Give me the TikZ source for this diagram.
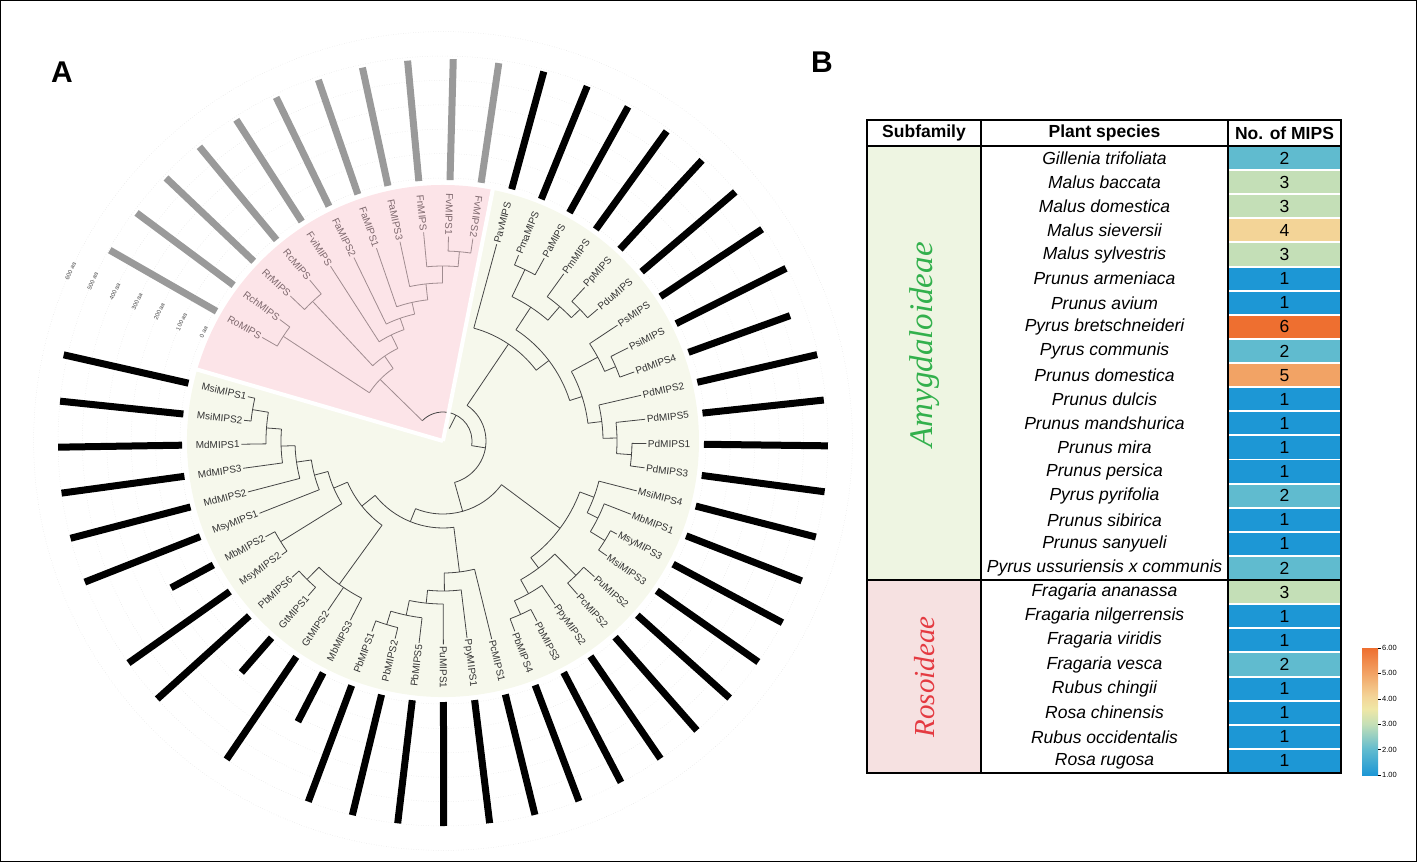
\documentclass[tikz,border=0pt]{standalone}
\usepackage{fontspec}
\setmainfont{Liberation Sans}
\newfontfamily\subfont{Liberation Serif}
\usetikzlibrary{positioning}

\definecolor{pinkbg}{HTML}{FCE4E8}
\definecolor{greenbg}{HTML}{F6F8EC}
\definecolor{pinkln}{HTML}{A08C90}
\definecolor{pinktx}{HTML}{7E686D}
\definecolor{treeln}{HTML}{454545}
\definecolor{barg}{HTML}{9A9A9A}
\definecolor{amyg}{HTML}{EEF5E2}
\definecolor{roso}{HTML}{F6E1E1}
\definecolor{amygtx}{HTML}{32B04C}
\definecolor{rosotx}{HTML}{E43A41}
\definecolor{c1}{HTML}{1D97D5}
\definecolor{c2}{HTML}{60BBCF}
\definecolor{c3}{HTML}{C4DFB7}
\definecolor{c4}{HTML}{F3D497}
\definecolor{c5}{HTML}{F2A365}
\definecolor{c6}{HTML}{EE6F30}
\definecolor{cy}{HTML}{EFE7A6}
\pgfdeclareverticalshading{mipsbar}{100bp}{color(0bp)=(c1); color(25bp)=(c1); color(35bp)=(c2); color(45bp)=(c3); color(51bp)=(cy); color(56bp)=(c4); color(65bp)=(c5); color(75bp)=(c6); color(100bp)=(c6)}

\begin{document}
\begin{tikzpicture}[x=1pt,y=1pt]

\tikzset{lbl/.style = {font=\fontsize{10}{10}\selectfont, inner sep=1.5pt, text=black!80}}
\tikzset{plbl/.style = {lbl, text=pinktx}}
\tikzset{gline/.style = {draw=treeln, line width=0.8}}
\tikzset{pline/.style = {draw=pinkln, line width=0.8}}
\tikzset{gbar/.style = {draw=black, line width=7}}
\tikzset{pbar/.style = {draw=barg, line width=7}}
\tikzset{ring/.style = {draw=black!12, dotted, line width=0.5}}
\tikzset{head/.style = {font=\bfseries\fontsize{17.5}{17.5}\selectfont}}
\tikzset{spc/.style = {font=\itshape\fontsize{17.5}{17.5}\selectfont}}
\tikzset{num/.style = {font=\fontsize{17.5}{17.5}\selectfont}}

\useasboundingbox (0,0) rectangle (1417,-862);
\draw[line width=1.2] (0.6,-0.6) rectangle (1416.4,-861.4);

% panel letters
\node[font=\bfseries\fontsize{30}{30}\selectfont] (pA) at (62,-72) {A};
\node[font=\bfseries\fontsize{30}{30}\selectfont] (pB) at (822,-62) {B};

% tree
\begin{scope}[shift={(443,-441)}]
\foreach \k in {0,...,6}
  \draw[ring] (0,0) circle[radius=263+24.4*\k];
\fill[pinkbg] (0,0) -- (79.2:256) arc[start angle=79.2, end angle=163.4, radius=256] -- cycle;
\fill[greenbg] (0,0) -- (164.2:256) arc[start angle=164.2, end angle=438.4, radius=256] -- cycle;
\foreach \k/\t in {0/0,1/100,2/200,3/300,4/400,5/500,6/600}
  \node[font=\fontsize{6}{6}\selectfont, text=black!70, rotate=65.5] (sc\k) at (155.5:263+24.4*\k) {\t\ aa};

% inner branches
\draw[gline] (-9.2:29) arc[start angle=-9.2, end angle=135.6, radius=29];
\draw[gline] (63.2:29) -- (63.2:14);
\foreach \r/\s/\e/\m/\p in {190/88.5/81.6/85.05/175, 175/95.3/85.05/90.18/158,
  158/102.2/90.18/96.19/142, 142/109.0/96.19/102.6/130, 130/115.9/102.6/109.25/118,
  118/122.8/109.25/116.0/103, 191/136.5/129.6/133.05/103, 103/133.05/116.0/124.5/88,
  191/150.2/143.3/146.75/88, 88/146.75/124.5/135.6/29}
{
  \draw[pline] (\s:\r) arc[start angle=\s, end angle=\e, radius=\r];
  \draw[pline] (\m:\r) -- (\m:\p);
}
\foreach \r/\s/\e/\m/\p in {190/67.9/61.0/64.45/160, 190/47.3/40.4/43.85/178,
  178/54.2/43.85/49.03/160, 160/64.45/49.03/56.74/133, 188/26.7/19.9/23.3/176,
  176/33.6/23.3/28.45/146, 189/-0.7/-7.6/-4.15/174, 174/6.1/-4.15/0.98/160,
  160/13.0/0.98/6.99/146, 146/28.45/6.99/17.72/133, 133/56.74/17.72/37.23/117,
  117/74.7/37.23/55.97/43, 190/-28.2/-35.0/-31.6/173, 173/-21.3/-31.6/-26.45/161,
  161/-14.4/-26.45/-20.43/146, 189/-41.9/-48.7/-45.3/159, 190/-62.5/-69.3/-65.9/175,
  175/-55.6/-65.9/-60.75/159, 159/-45.3/-60.75/-53.03/146, 146/-20.43/-53.03/-36.73/73,
  192/-103.6/-110.5/-107.05/178, 178/-96.8/-107.05/-101.93/163, 163/-89.9/-101.93/-95.91/150,
  150/-83.0/-95.91/-89.46/132, 132/-76.2/-89.46/-82.83/87, 194/-131.1/-137.9/-134.5/177,
  177/-117.3/-134.5/-125.9/104, 193/-185.9/-192.8/-189.35/177, 177/-179.1/-189.35/-184.23/162,
  162/-172.2/-184.23/-178.2/148, 148/-165.4/-178.2/-171.8/133, 133/-158.5/-171.8/-165.15/119,
  191/-144.8/-151.6/-148.2/119, 119/-148.2/-165.15/-156.68/104, 104/-125.9/-156.68/-141.29/87,
  87/-82.83/-141.29/-112.06/73, 73/-36.73/-112.06/-74.4/43, 43/55.97/-74.4/-9.2/29}
{
  \draw[gline] (\s:\r) arc[start angle=\s, end angle=\e, radius=\r];
  \draw[gline] (\m:\r) -- (\m:\p);
}

% leaves, Rosoideae
\foreach \n/\p/\len [count=\i from 0] in {RoMIPS/191/123, RchMIPS/191/121, RrMIPS/191/121,
  RcMIPS/191/121, FviMIPS/118/121, FaMIPS2/130/121, FaMIPS1/142/121, FaMIPS3/158/121,
  FnMIPS/175/121, FvMIPS1/190/121, FvMIPS2/190/121}
{
  \pgfmathsetmacro\a{150.2-6.86*\i}
  \pgfmathsetmacro\ro{261+\len}
  \pgfmathsetmacro\rt{\a+180}
  \node[plbl, rotate=\rt, anchor=west] (\n) at (\a:249) {\n};
  \draw[pline] (\a:\p) -- (\n);
  \draw[pbar] (\a:261) -- (\a:\ro);
}
% leaves, Amygdaloideae
\foreach \n/\p/\len [count=\i from 11] in {PavMIPS/117/122, PmaMIPS/190/122, PaMIPS/190/121,
  PmMIPS/178/121, PpMIPS/190/121, PduMIPS/190/123, PsMIPS/176/122, PsiMIPS/188/123,
  PdMIPS4/188/108, PdMIPS2/160/123, PdMIPS5/174/122, PdMIPS1/189/124, PdMIPS3/189/124,
  MsiMIPS4/161/124, MbMIPS1/173/124, MsyMIPS3/190/124, MsiMIPS3/190/124, PuMIPS2/189/124,
  PcMIPS2/189/124, PpyMIPS2/175/124, PbMIPS3/190/124, PbMIPS4/190/124, PcMIPS1/132/124,
  PpyMIPS1/150/124, PuMIPS1/163/124, PbMIPS5/178/124, PbMIPS2/192/124, PbMIPS1/192/124,
  MbMIPS3/177/55, GtMIPS2/177/124, GtMIPS1/194/46, PbMIPS6/194/124, MsyMIPS2/191/124,
  MbMIPS2/191/48, MsyMIPS1/133/124, MdMIPS2/148/124, MdMIPS3/162/124, MdMIPS1/177/124,
  MsiMIPS2/193/124, MsiMIPS1/193/128}
{
  \pgfmathsetmacro\a{150.2-6.86*\i}
  \pgfmathsetmacro\ro{261+\len}
  \pgfmathtruncatemacro\sd{cos(\a)>=0}
  \ifnum\sd=1
    \node[lbl, rotate=\a, anchor=east] (\n) at (\a:249) {\n};
  \else
    \pgfmathsetmacro\rt{\a+180}
    \node[lbl, rotate=\rt, anchor=west] (\n) at (\a:249) {\n};
  \fi
  \draw[gline] (\a:\p) -- (\n);
  \draw[gbar] (\a:261) -- (\a:\ro);
}
\draw[white, line width=4] (0,0) -- (78.8:258);
\draw[white, line width=4] (0,0) -- (163.8:258);
\end{scope}

% table
\fill[amyg] (867,-146) rectangle (981,-580.1);
\fill[roso] (867,-580.1) rectangle (981,-773);
\node[head] (hsub) at (924,-133) {Subfamily};
\node[head] (hspc) at (1104.5,-133) {Plant species};
\node[head] (hnum) at (1284.5,-133) {No. of MIPS};
\foreach \sp/\v [count=\i from 0] in {Gillenia trifoliata/2, Malus baccata/3, Malus domestica/3,
  Malus sieversii/4, Malus sylvestris/3, Prunus armeniaca/1, Prunus avium/1,
  Pyrus bretschneideri/6, Pyrus communis/2, Prunus domestica/5, Prunus dulcis/1,
  Prunus mandshurica/1, Prunus mira/1, Prunus persica/1, Pyrus pyrifolia/2,
  Prunus sibirica/1, Prunus sanyueli/1, Pyrus ussuriensis x communis/2,
  Fragaria ananassa/3, Fragaria nilgerrensis/1, Fragaria viridis/1, Fragaria vesca/2,
  Rubus chingii/1, Rosa chinensis/1, Rubus occidentalis/1, Rosa rugosa/1}
{
  \pgfmathsetmacro\yc{-146-24.115*(\i+0.5)}
  \fill[c\v] (1229,\yc+11.06) rectangle (1340,\yc-11.06);
  \node[spc] (sp\i) at (1104.5,\yc) {\sp};
  \node[num] (nm\i) at (1284.5,\yc) {\v};
}
\node[rotate=90, text=amygtx, font=\subfont\itshape\fontsize{33}{33}\selectfont] (amy) at (925,-345) {Amygdaloideae};
\node[rotate=90, text=rosotx, font=\subfont\itshape\fontsize{29}{29}\selectfont] (ros) at (925,-677) {Rosoideae};
\draw[line width=1.5] (867,-146) -- (1341,-146);
\draw[line width=2] (867,-580.1) -- (1341,-580.1);
\draw[line width=1.5] (981,-120) -- (981,-773);
\draw[line width=2] (1228,-120) -- (1228,-773);
\draw[line width=2.2] (867,-120) rectangle (1341,-773);

% colour scale
\shade[shading=mipsbar] (1362,-648) rectangle (1378,-775);
\foreach \t [count=\k from 0] in {1.00,2.00,3.00,4.00,5.00,6.00}
{
  \draw[line width=0.5] (1378,-775+25.4*\k) -- (1381,-775+25.4*\k);
  \node[anchor=west, inner sep=1pt, font=\fontsize{7.5}{7.5}\selectfont] (cb\k) at (1381,-775+25.4*\k) {\t};
}

\end{tikzpicture}
\end{document}
